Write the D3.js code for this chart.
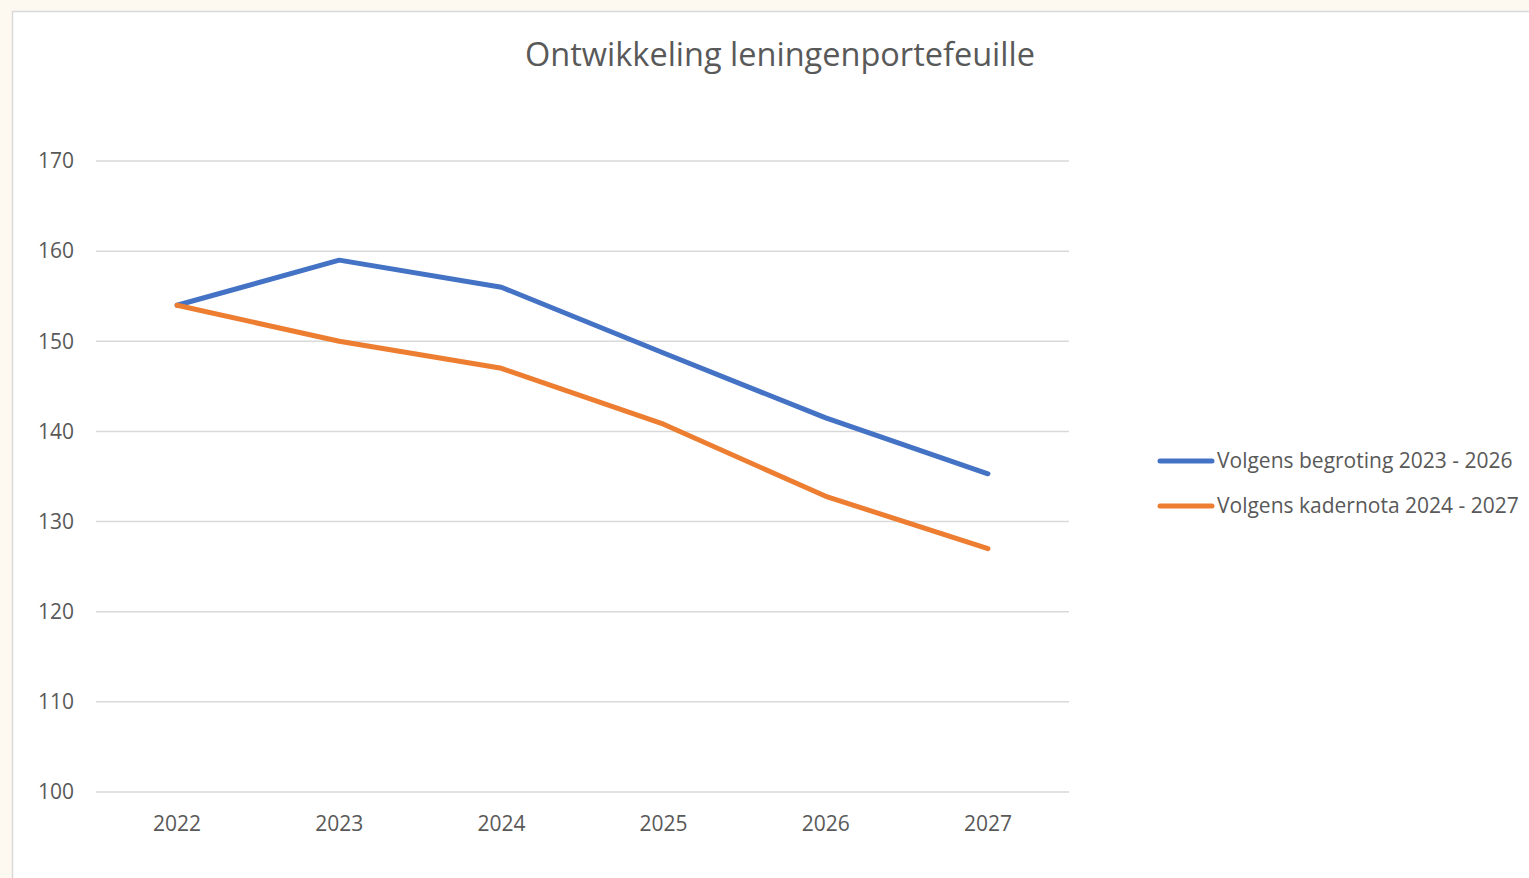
<!DOCTYPE html>
<html>
<head>
<meta charset="utf-8">
<script src="https://cdn.jsdelivr.net/npm/d3@7"></script>
<style>
  html, body { margin: 0; padding: 0; background: #fdf8f0; }
  svg { display: block; }
</style>
</head>
<body>
<div id="chart"></div>
<script>
// data
var years = ["2022", "2023", "2024", "2025", "2026", "2027"];
var begroting = [154, 159, 156, 148.7, 141.5, 135.3];
var kadernota = [154, 150, 147, 140.8, 132.8, 127];
var seriesNames = ["Volgens begroting 2023 - 2026", "Volgens kadernota 2024 - 2027"];
var seriesColors = ["#4472c4", "#ed7d31"];
var yTicks = [100, 110, 120, 130, 140, 150, 160, 170];

var W = 1529, H = 878;
var font = "'Open Sans', 'Liberation Sans', sans-serif";

var svg = d3.select("#chart").append("svg")
  .attr("width", W).attr("height", H);

// chart area (white, grey border on left/top)
svg.append("rect")
  .attr("x", 12.5).attr("y", 11.5)
  .attr("width", W).attr("height", H)
  .attr("fill", "#fff")
  .attr("stroke", "#d9d9d9").attr("stroke-width", 1.5);

var x = d3.scalePoint().domain(years).range([96, 1069]).padding(0.5);
var y = d3.scaleLinear().domain([100, 170]).range([792, 161]);

// gridlines
svg.append("g").selectAll("line")
  .data(yTicks).enter().append("line")
  .attr("x1", 96).attr("x2", 1069)
  .attr("y1", function(d) { return y(d); })
  .attr("y2", function(d) { return y(d); })
  .attr("stroke", "#d9d9d9").attr("stroke-width", 1.5);

// y labels
svg.append("g").selectAll("text")
  .data(yTicks).enter().append("text")
  .attr("x", 74).attr("y", function(d) { return y(d); })
  .attr("dy", "0.35em")
  .attr("text-anchor", "end")
  .style("font-family", font).style("font-size", "21px")
  .attr("fill", "#595959")
  .text(function(d) { return d; });

// x labels
svg.append("g").selectAll("text")
  .data(years).enter().append("text")
  .attr("x", function(d) { return x(d); }).attr("y", 824)
  .attr("dy", "0.35em")
  .attr("text-anchor", "middle")
  .style("font-family", font).style("font-size", "21px")
  .attr("fill", "#595959")
  .text(function(d) { return d; });

// title
svg.append("text")
  .attr("x", 780).attr("y", 55)
  .attr("dy", "0.35em")
  .attr("text-anchor", "middle")
  .style("font-family", font).style("font-size", "32.5px")
  .attr("fill", "#595959")
  .text("Ontwikkeling leningenportefeuille");

var line = d3.line()
  .x(function(d, i) { return x(years[i]); })
  .y(function(d) { return y(d); });

[begroting, kadernota].forEach(function(s, i) {
  svg.append("path")
    .attr("d", line(s))
    .attr("fill", "none")
    .attr("stroke", seriesColors[i])
    .attr("stroke-width", 5)
    .attr("stroke-linecap", "round")
    .attr("stroke-linejoin", "round");
});

// legend
var leg = svg.append("g").selectAll("g")
  .data(seriesNames).enter().append("g")
  .attr("transform", function(d, i) { return "translate(1160," + (461 + i * 45) + ")"; });
leg.append("line")
  .attr("x1", 0).attr("x2", 52)
  .attr("stroke", function(d, i) { return seriesColors[i]; })
  .attr("stroke-width", 5)
  .attr("stroke-linecap", "round");
leg.append("text")
  .attr("x", 57).attr("dy", "0.35em")
  .style("font-family", font).style("font-size", "21px")
  .attr("fill", "#595959")
  .text(function(d) { return d; });
</script>
</body>
</html>
